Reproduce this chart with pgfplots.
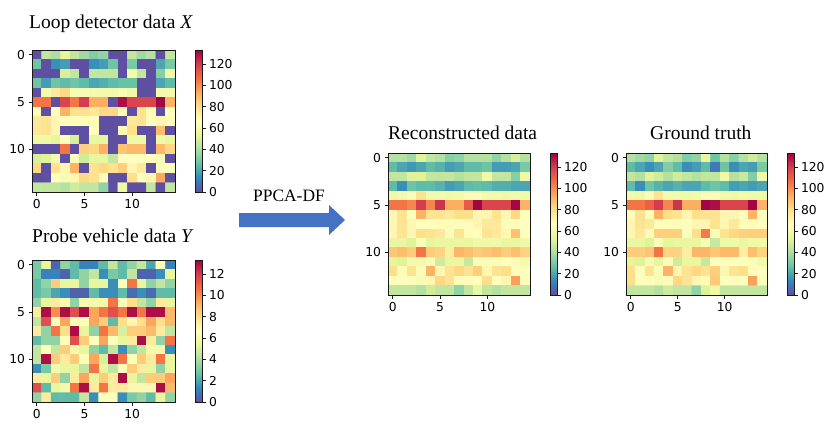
\documentclass[border=0pt]{standalone}
\usepackage{fontspec}
\setmainfont{Liberation Serif}
\newfontfamily\dejavu{DejaVu Sans}
\usepackage{pgfplots}
\usepackage{pgfplotstable}
\pgfplotsset{compat=1.18}

\pgfplotsset{
  colormap={spectralr}{rgb255=(94,79,162) rgb255=(50,136,189) rgb255=(102,194,165)
    rgb255=(171,221,164) rgb255=(230,245,152) rgb255=(255,255,191) rgb255=(254,224,139)
    rgb255=(253,174,97) rgb255=(244,109,67) rgb255=(213,62,79) rgb255=(158,1,66)},
  tl/.style={font=\dejavu\fontsize{12.3}{14}\selectfont},
  heat/.style={
    scale only axis, width=143pt, height=142pt, anchor=north west,
    axis on top,
    xmin=-0.5, xmax=14.5, ymin=-0.5, ymax=14.5, y dir=reverse,
    xtick={0,5,10}, ytick={0,5,10},
    tick align=outside, tick pos=left, major tick length=3.5pt,
    ticklabel style={tl}, /pgf/number format/assume math mode=true,
    axis line style={black!90, line width=0.6pt},
    tick style={black!90, line width=0.6pt},
    colormap name=spectralr, point meta min=0,
    colorbar,
    colorbar style={
      at={(parent axis.north east)}, anchor=north west, xshift=11.5pt, width=7pt,
      axis on top,
      tick align=outside, ytick pos=right, yticklabel pos=right, major tick length=3.5pt,
      ticklabel style={tl}, /pgf/number format/assume math mode=true,
      axis line style={black!90, line width=0.6pt},
      tick style={black!90, line width=0.6pt},
    },
  },
  cells/.style={matrix plot*, mesh/cols=15, point meta=explicit},
  % cell (row, col) from the running index; rounding guards against 9.9999
  /pgfplots/table/grid/.style={x index=0, y index=0, meta index=0,
    x expr={\coordindex-15*floor((\coordindex+0.5)/15)},
    y expr={floor((\coordindex+0.5)/15)}},
}

% Loop detector data X (one heatmap row per line)
\pgfplotstableread[row sep=\\]{c\\
0\\45\\40\\55\\45\\38\\32\\35\\0\\0\\45\\38\\42\\0\\45\\
28\\0\\15\\18\\0\\0\\15\\18\\28\\0\\30\\0\\0\\20\\30\\
0\\0\\0\\50\\45\\0\\45\\45\\45\\0\\60\\45\\0\\33\\58\\
28\\18\\28\\25\\28\\25\\20\\22\\25\\27\\27\\0\\0\\20\\25\\
0\\60\\76\\82\\62\\62\\60\\60\\60\\63\\58\\0\\0\\60\\60\\
105\\105\\0\\118\\105\\120\\93\\93\\0\\130\\118\\118\\118\\132\\92\\
68\\0\\65\\92\\79\\79\\76\\82\\82\\68\\0\\79\\68\\0\\66\\
76\\78\\70\\65\\65\\68\\65\\0\\0\\0\\76\\78\\68\\70\\68\\
77\\78\\70\\0\\0\\0\\66\\0\\0\\64\\79\\0\\0\\89\\0\\
58\\58\\55\\65\\50\\0\\55\\55\\0\\0\\58\\58\\0\\58\\55\\
0\\0\\0\\105\\0\\84\\82\\92\\0\\87\\90\\90\\0\\90\\82\\
50\\52\\60\\0\\65\\48\\55\\55\\45\\66\\66\\66\\66\\64\\0\\
82\\0\\79\\70\\92\\0\\79\\82\\79\\84\\70\\76\\0\\68\\66\\
0\\0\\67\\62\\70\\82\\79\\68\\0\\0\\80\\66\\70\\94\\0\\
45\\45\\45\\42\\48\\45\\45\\35\\0\\58\\0\\0\\45\\0\\45\\
}\tabX

% Probe vehicle data Y
\pgfplotstableread[row sep=\\]{c\\
3\\5.5\\0.5\\3.5\\2.5\\1.2\\1.2\\2.5\\4.5\\2.5\\3.5\\4.5\\2\\6.5\\1.2\\
3\\1.2\\1.2\\0.5\\2.5\\3.5\\4.5\\1.5\\3\\2.5\\4.5\\0.5\\0.5\\1.5\\5.5\\
2.5\\3.5\\8.5\\5.5\\5.5\\3.5\\5.5\\5.5\\1.5\\6.5\\10.5\\5.5\\3.5\\4.5\\3.5\\
2.5\\3\\2\\1.5\\0.5\\0.5\\2.5\\1.5\\1.5\\2.5\\0.7\\1.5\\0.7\\2.5\\2.5\\
3.5\\5.5\\7.5\\7\\3.5\\6\\6\\6\\10.5\\6.5\\8\\4.5\\3.5\\7.5\\5.5\\
7.5\\13\\10\\13\\11.5\\13\\9.5\\10.5\\11.5\\10.5\\13\\10.5\\13\\13\\9\\
4.5\\11.5\\6.5\\9.5\\6.5\\6.5\\9.5\\8.5\\2.5\\8\\7\\8\\9.5\\8\\9\\
7.5\\3.5\\10.5\\8\\13\\5.5\\3.5\\10.5\\9\\5\\8.5\\8.5\\9\\7.5\\4.5\\
2.5\\3.5\\3.5\\6.5\\11.5\\8.5\\6.5\\9.5\\6.5\\5.5\\7.5\\13\\7.5\\3.5\\10.5\\
4.5\\6.5\\4.5\\8.5\\6\\5.5\\3.5\\2.5\\4.5\\1.5\\3.5\\4.5\\6\\6\\1.5\\
4.5\\13\\8.5\\7.5\\8.5\\6.5\\9.5\\5\\13\\10.5\\6.5\\8.5\\7.5\\10.5\\5.5\\
1.5\\3\\6\\5.5\\5.5\\4.5\\10.5\\5.5\\4.5\\6.5\\8.5\\7.5\\5.5\\3.5\\5.5\\
7.5\\5.5\\8.5\\3.5\\7.5\\9.5\\5.5\\8.5\\7.5\\13\\5.5\\4.5\\8.5\\8.5\\9.5\\
11.5\\2.5\\5.5\\6\\10.5\\13\\7.5\\10.5\\7.5\\7.5\\7\\7\\7\\13\\9\\
3.5\\7.5\\2.5\\2.5\\2.5\\4.5\\1.5\\6.5\\6.5\\1.5\\3\\3.5\\2.5\\5.5\\3.5\\
}\tabY

% Reconstructed data
\pgfplotstableread[row sep=\\]{c\\
42\\42\\38\\52\\45\\42\\33\\35\\42\\42\\42\\35\\42\\50\\42\\
25\\20\\17\\20\\25\\23\\18\\20\\25\\25\\28\\18\\18\\20\\30\\
45\\45\\52\\52\\45\\45\\45\\42\\45\\45\\58\\45\\45\\33\\58\\
25\\15\\28\\25\\25\\23\\18\\20\\25\\26\\25\\22\\22\\20\\20\\
58\\60\\68\\79\\60\\60\\58\\60\\64\\64\\60\\60\\58\\60\\60\\
105\\105\\102\\120\\102\\122\\93\\93\\112\\132\\118\\118\\118\\132\\92\\
70\\78\\66\\92\\78\\78\\76\\80\\80\\70\\70\\78\\70\\82\\66\\
70\\78\\70\\66\\66\\68\\64\\68\\68\\70\\76\\76\\68\\68\\66\\
70\\78\\70\\80\\78\\76\\64\\78\\68\\66\\78\\76\\70\\88\\66\\
56\\56\\52\\64\\54\\56\\56\\56\\56\\58\\58\\58\\56\\56\\58\\
87\\89\\85\\105\\85\\83\\74\\91\\89\\85\\87\\89\\85\\89\\83\\
54\\52\\60\\60\\64\\48\\56\\56\\46\\64\\64\\64\\66\\64\\60\\
80\\68\\78\\68\\92\\70\\78\\82\\78\\84\\70\\78\\80\\68\\66\\
68\\66\\68\\62\\70\\82\\78\\68\\68\\66\\80\\66\\70\\96\\68\\
45\\45\\45\\42\\48\\45\\45\\35\\45\\56\\45\\42\\45\\45\\45\\
}\tabR

% Ground truth
\pgfplotstableread[row sep=\\]{c\\
42\\38\\35\\52\\45\\42\\32\\35\\55\\28\\42\\33\\42\\48\\42\\
25\\20\\15\\20\\32\\25\\15\\18\\25\\10\\28\\15\\20\\18\\30\\
45\\42\\52\\48\\42\\48\\45\\42\\45\\45\\58\\42\\46\\32\\58\\
25\\15\\28\\23\\20\\23\\20\\20\\25\\28\\25\\18\\20\\18\\20\\
60\\58\\68\\79\\60\\60\\58\\60\\64\\64\\60\\58\\60\\58\\58\\
105\\105\\110\\120\\102\\122\\93\\93\\132\\130\\118\\118\\118\\132\\92\\
68\\79\\65\\92\\80\\78\\70\\80\\78\\78\\70\\70\\68\\92\\66\\
70\\78\\76\\65\\65\\68\\66\\70\\70\\78\\70\\76\\65\\68\\66\\
70\\76\\68\\84\\84\\84\\66\\80\\104\\64\\78\\82\\84\\84\\84\\
56\\56\\52\\64\\54\\56\\56\\56\\62\\46\\58\\58\\56\\58\\58\\
85\\85\\87\\105\\83\\83\\74\\91\\91\\87\\90\\90\\74\\89\\83\\
54\\52\\62\\55\\64\\48\\56\\56\\46\\66\\66\\66\\66\\64\\60\\
80\\66\\78\\68\\92\\70\\78\\82\\78\\84\\70\\78\\80\\68\\66\\
80\\66\\68\\62\\68\\82\\78\\70\\68\\86\\66\\68\\66\\96\\66\\
45\\45\\45\\42\\48\\45\\45\\35\\52\\58\\45\\45\\45\\45\\45\\
}\tabG

\begin{document}
\begin{tikzpicture}
\path[use as bounding box] (0,0) rectangle (830pt,-433pt);

\begin{axis}[heat, at={(32pt,-50pt)}, point meta max=133,
  colorbar style={ytick={0,20,...,120}}]
  \addplot[cells] table[grid] {\tabX};
\end{axis}

\begin{axis}[heat, at={(32pt,-260pt)}, point meta max=13.3,
  colorbar style={ytick={0,2,...,12}}]
  \addplot[cells] table[grid] {\tabY};
\end{axis}

\begin{axis}[heat, at={(388pt,-153pt)}, width=142pt, point meta max=133,
  colorbar style={ytick={0,20,...,120}}]
  \addplot[cells] table[grid] {\tabR};
\end{axis}

\begin{axis}[heat, at={(626pt,-153pt)}, width=141pt, point meta max=133,
  colorbar style={ytick={0,20,...,120}}]
  \addplot[cells] table[grid] {\tabG};
\end{axis}

\begin{scope}[every node/.style={inner sep=0pt, anchor=base west}]
  \node[font=\fontsize{19.5}{22}\selectfont] at (29pt,-29pt) {Loop detector data \textit{X}};
  \node[font=\fontsize{19.5}{22}\selectfont] at (32pt,-242pt) {Probe vehicle data \textit{Y}};
  \node[font=\fontsize{19.5}{22}\selectfont] at (388pt,-140pt) {Reconstructed data};
  \node[font=\fontsize{19.5}{22}\selectfont] at (650pt,-140pt) {Ground truth};
  \node[font=\fontsize{17.4}{20}\selectfont] at (253pt,-201pt) {PPCA-DF};
\end{scope}

\definecolor{arrowblue}{RGB}{68,114,196}
\fill[arrowblue] (239pt,-213pt) -- (329pt,-213pt) -- (329pt,-205pt) -- (345pt,-220pt)
  -- (329pt,-235pt) -- (329pt,-227pt) -- (239pt,-227pt) -- cycle;
\end{tikzpicture}
\end{document}
